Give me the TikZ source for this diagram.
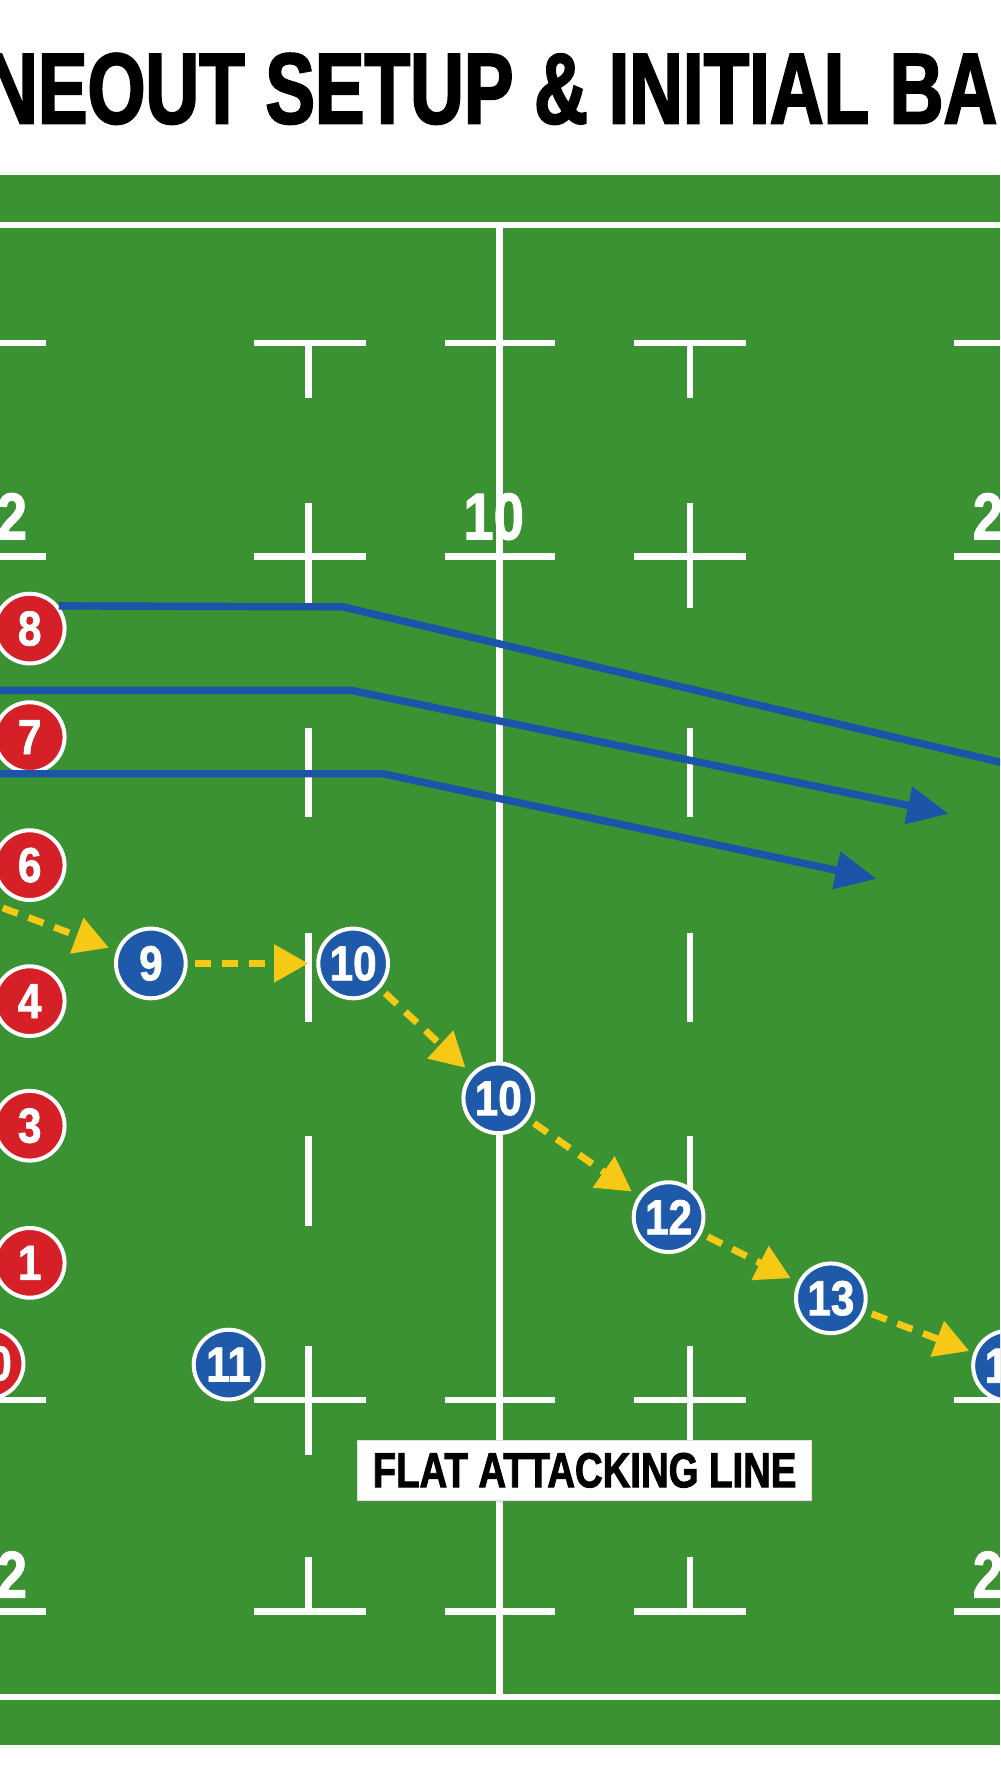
\documentclass[tikz,border=0pt]{standalone}
\usepackage{fontspec}
\setmainfont{Liberation Sans}
\newfontfamily\titlefont{Liberation Sans}[FakeStretch=0.74,FakeBold=2]
\newfontfamily\numfont{Liberation Sans}[FakeStretch=0.86,FakeBold=1.5]
\newfontfamily\fieldfont{Liberation Sans}[FakeStretch=0.82,FakeBold=1.5]
\newfontfamily\boxfont{Liberation Sans}[FakeStretch=0.78,FakeBold=1.8]
\usetikzlibrary{arrows.meta,shadows}
\definecolor{pitch}{RGB}{59,146,51}
\definecolor{redp}{RGB}{212,32,38}
\definecolor{bluep}{RGB}{31,90,170}
\definecolor{runblue}{RGB}{27,84,168}
\definecolor{passy}{RGB}{246,201,22}
\tikzset{
  fieldline/.style={white, line width=5.5pt},
  fieldnum/.style={text=white, inner sep=0pt, font=\fieldfont\bfseries\fontsize{58}{58}\selectfont},
  player/.style={circle, draw=white, line width=3.5pt, minimum size=61pt, inner sep=0pt, text=white,
    font=\numfont\bfseries\fontsize{43}{43}\selectfont,
    drop shadow={opacity=0.25, shadow xshift=1pt, shadow yshift=-2pt}},
  redplayer/.style={player, fill=redp},
  blueplayer/.style={player, fill=bluep},
  runline/.style={runblue, line width=6.5pt, line join=round},
  run/.style={runline, -{Triangle[length=36pt,width=32pt]}},
  pass/.style={passy, line width=6pt, dash pattern=on 14pt off 10pt, shorten <=6pt, shorten >=7pt,
    -{Triangle[length=30pt,width=32pt]}},
  labelbox/.style={fill=white, draw=black!12, line width=0.8pt, minimum width=397pt, minimum height=53pt,
    inner sep=0pt, font=\boxfont\bfseries\fontsize{43}{43}\selectfont, text=black,
    drop shadow={opacity=0.2, shadow xshift=1pt, shadow yshift=-2pt}}
}
\begin{document}
\begin{tikzpicture}[x=1pt,y=-1pt]
\useasboundingbox (0,0) rectangle (875,1568);
\begin{scope}
\clip (0,0) rectangle (875,1568);
\fill[white] (0,0) rectangle (875,1568);
% title
\node[anchor=base west, inner sep=0pt, font=\titlefont\bfseries\fontsize{88}{88}\selectfont] (title) at (-14,108) {NEOUT SETUP \& INITIAL BA};
% pitch
\fill[pitch] (0,153) rectangle (875,1527);
\draw[fieldline] (-5,197) -- (880,197);
\draw[fieldline] (-5,1485) -- (880,1485);
\draw[fieldline] (437,197) -- (437,1485);
\foreach \yy in {300,487,1225,1410}{
  \draw[fieldline] (-5,\yy) -- (40,\yy);
  \draw[fieldline] (222,\yy) -- (320,\yy);
  \draw[fieldline] (389,\yy) -- (486,\yy);
  \draw[fieldline] (555,\yy) -- (653,\yy);
  \draw[fieldline] (835,\yy) -- (880,\yy);
}
\foreach \xx in {270,604}{
  \draw[fieldline] (\xx,300) -- (\xx,348);
  \draw[fieldline] (\xx,440) -- (\xx,532);
  \draw[fieldline] (\xx,637) -- (\xx,715);
  \draw[fieldline] (\xx,816) -- (\xx,894);
  \draw[fieldline] (\xx,994) -- (\xx,1073);
  \draw[fieldline] (\xx,1178) -- (\xx,1273);
  \draw[fieldline] (\xx,1362) -- (\xx,1410);
}
% field numbers
\node[fieldnum, anchor=base west] (n22tl) at (-3,472) {2};
\node[fieldnum, anchor=base] (n10t) at (432,472) {10};
\node[fieldnum, anchor=base west] (n22tr) at (851,472) {2};
\node[fieldnum, anchor=base west] (n22bl) at (-3,1398) {2};
\node[fieldnum, anchor=base west] (n22br) at (851,1398) {2};
% label
\node[labelbox] (flat) at (511.5,1286.5) {FLAT ATTACKING LINE};
% red players
\node[redplayer] (r8) at (26,550) {8};
\node[redplayer] (r7) at (26,645) {7};
\node[redplayer] (r6) at (26,757) {6};
\node[redplayer] (r4) at (26,876) {4};
\node[redplayer] (r3) at (26,985) {3};
\node[redplayer] (r1) at (26,1105) {1};
\node[redplayer] (r0) at (-10,1193) {\hspace*{20pt}0};
% blue run lines
\coordinate (s2) at (-10,604);
\coordinate (s3) at (-10,677);
\coordinate (e1) at (905,674);
\coordinate (e2) at (830,712);
\coordinate (e3) at (767,769);
\draw[runline] (r8.38) -- (300,531) -- (e1);
\draw[run] (s2) -- (307,604) -- (e2);
\draw[run] (s3) -- (335,677) -- (e3);
% blue players
\node[blueplayer] (b9) at (132,843) {9};
\node[blueplayer] (b10a) at (309,843) {10};
\node[blueplayer] (b10b) at (436,961) {10};
\node[blueplayer] (b12) at (585,1065) {12};
\node[blueplayer] (b13) at (727,1136) {13};
\node[blueplayer] (b14) at (882,1195) {1\hspace*{20pt}};
\node[blueplayer] (b11) at (200,1194) {11};
% passes
\coordinate (p0) at (-20,786);
\draw[pass, shorten <=0pt] (p0) -- (b9);
\draw[pass] (b9) -- (b10a);
\draw[pass] (b10a) -- (b10b);
\draw[pass] (b10b) -- (b12);
\draw[pass] (b12) -- (b13);
\draw[pass, shorten >=4pt] (b13) -- (b14);
\end{scope}
\end{tikzpicture}
\end{document}
